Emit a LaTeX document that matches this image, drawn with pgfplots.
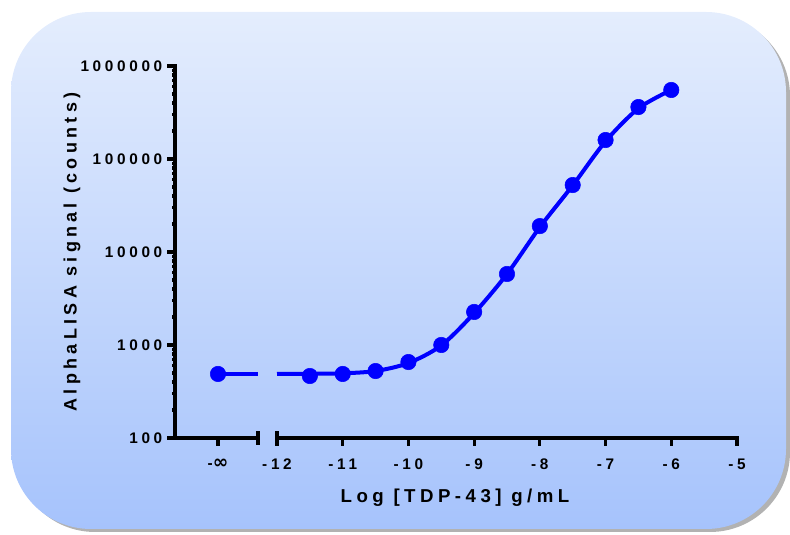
\documentclass[border=0pt]{standalone}
\usepackage{pgfplots}
\pgfplotsset{compat=1.18}
\usepackage{fontspec}
\setmainfont{Liberation Sans}
\newfontfamily\tickfont[LetterSpace=24]{Liberation Sans}
\newfontfamily\labfont[LetterSpace=24]{Liberation Sans}
\newfontfamily\symfont{DejaVu Sans}
\definecolor{bgtop}{RGB}{228,237,253}
\definecolor{bgbot}{RGB}{166,195,252}
\definecolor{curve}{RGB}{0,0,255}

% 1 px of the reference = 0.75pt
\begin{document}
\begin{tikzpicture}
\path[use as bounding box] (0,0) rectangle (592.5pt,401.25pt);
% panel
\fill[black!30, rounded corners=60pt] (11.25pt,2.25pt) rectangle (592.5pt,389.25pt);
\shade[top color=bgtop, bottom color=bgbot, rounded corners=60pt]
  (8.25pt,4.5pt) rectangle (589.5pt,392.25pt);

% -infinity segment
\begin{axis}[
  scale only axis, height=279pt, width=62.25pt,
  at={(131.25pt,72.75pt)}, anchor=south west,
  ymode=log, ymin=100, ymax=1000000,
  xmin=-43, xmax=40,
  axis x line*=bottom, axis y line*=left,
  axis line style={line width=2.6pt, line cap=rect},
  every tick/.style={black, line width=2.4pt},
  tick align=outside, major tick length=6pt, minor tick length=2pt,
  tick label style={font=\tickfont\bfseries\fontsize{11.5}{13}\selectfont},
  xticklabel style={yshift=-6pt},
  xtick={0}, xticklabels={-{\symfont\bfseries\fontsize{14}{13}\selectfont ∞}},
  extra x ticks={40}, extra x tick labels={},
  extra x tick style={tick align=center, major tick length=10.5pt},
  ytick={100,1000,10000,100000,1000000},
  yticklabels={100,1000,10000,100000,1000000},
]
\addplot[curve, line width=3pt] coordinates {(0,488) (40,488)};
\addplot[curve, only marks, mark=*, mark size=5.8pt] coordinates {(0,488)};
\end{axis}

% main segment
\begin{axis}[
  scale only axis, height=279pt, width=345pt,
  at={(207.75pt,72.75pt)}, anchor=south west,
  ymode=log, ymin=100, ymax=1000000,
  xmin=-12, xmax=-5,
  axis x line*=bottom, axis y line=none,
  axis line style={line width=2.6pt, line cap=rect},
  every tick/.style={black, line width=2.4pt},
  tick align=outside, major tick length=6pt,
  tick label style={font=\tickfont\bfseries\fontsize{11.5}{13}\selectfont},
  xticklabel style={yshift=-6pt},
  xtick={-12,-11,-10,-9,-8,-7,-6,-5},
  xticklabels={-12,-11,-10,-9,-8,-7,-6,-5},
  extra x ticks={-12}, extra x tick labels={},
  extra x tick style={tick align=center, major tick length=10.5pt},
  clip=false,
]
\addplot[curve, line width=3pt, smooth] coordinates {
  (-12,488) (-11.5,490) (-11,496) (-10.5,525) (-10,640) (-9.5,990)
  (-9,2200) (-8.5,5800) (-8,18500) (-7.5,52000) (-7,155000)
  (-6.5,350000) (-6,552000)};
\addplot[curve, only marks, mark=*, mark size=5.8pt] coordinates {
  (-11.5,464) (-11,488) (-10.5,525) (-10,656) (-9.5,1000) (-9,2265)
  (-8.5,5800) (-8,19000) (-7.5,52500) (-7,160000) (-6.5,362000)
  (-6,552000)};
\end{axis}

\node[rotate=90, font=\labfont\bfseries\fontsize{13.5}{15}\selectfont]
  at (54pt,212.25pt) {AlphaLISA signal (counts)};
\node[font=\labfont\bfseries\fontsize{14}{16}\selectfont]
  at (341.25pt,27.75pt) {Log [TDP-43] g/mL};
\end{tikzpicture}
\end{document}
